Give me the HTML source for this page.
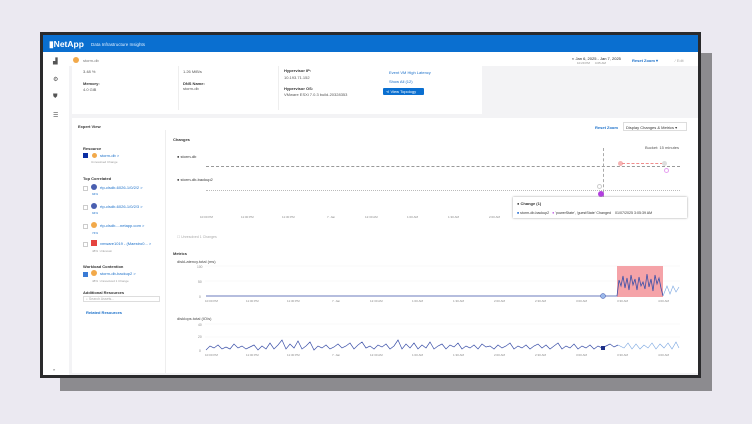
<!DOCTYPE html>
<html><head><style>
*{margin:0;padding:0;box-sizing:border-box}
body{width:752px;height:424px;background:#ebe9f1;position:relative;overflow:hidden;font-family:"Liberation Sans",sans-serif;color:#333}
.a{position:absolute}
.t{position:absolute;font-size:4px;white-space:nowrap}
.b{color:#1a6fc9}
.bold{font-weight:bold}
</style></head><body>
<div class="a" style="left:60px;top:53px;width:652px;height:338px;background:#8c8b8f"></div>
<div class="a" style="left:40px;top:32px;width:661px;height:346px;background:#2a2a2c"></div>
<div class="a" style="left:43px;top:35px;width:655px;height:340px;background:#f3f3f5"></div>
<div class="a" style="left:43px;top:35px;width:655px;height:17px;background:#0a6fd0"></div>
<div class="t" style="left:49px;top:39px;font-size:8.5px;color:#fff;font-weight:bold">▮NetApp</div>
<div class="t" style="left:91px;top:42px;font-size:4.5px;color:#dfeeff">Data Infrastructure Insights</div>
<div class="a" style="left:43px;top:52px;width:26px;height:323px;background:#fff"></div>
<div class="t" style="left:53px;top:58px;font-size:6px;color:#555">▟</div>
<div class="t" style="left:53px;top:76px;font-size:6px;color:#555">⚙</div>
<div class="t" style="left:53px;top:94px;font-size:6px;color:#555">⛊</div>
<div class="t" style="left:53px;top:112px;font-size:6px;color:#555">☰</div>
<div class="t" style="left:53px;top:367px;font-size:4px;color:#555">»</div>
<div class="a" style="left:69px;top:52px;width:629px;height:14px;background:#fff"></div>
<div class="a" style="left:73px;top:57px;width:6px;height:6px;border-radius:50%;background:#f2a94a"></div>
<div class="t" style="left:83px;top:58px;color:#777">storm-db</div>
<div class="t" style="left:572px;top:56px;color:#222" >◐ Jan 6, 2025 - Jan 7, 2025</div>
<div class="t" style="left:577px;top:61px;color:#888;font-size:3px">10:29 PM &nbsp;&nbsp;&nbsp;&nbsp; 4:05 AM</div>
<div class="t b bold" style="left:632px;top:58px">Reset Zoom ▾</div>
<div class="t" style="left:675px;top:58px;color:#aaa">⁄ Edit</div>
<div class="a" style="left:72px;top:66px;width:410px;height:48px;background:#fff"></div>
<div class="t" style="left:83px;top:69px;color:#555">3.48 %</div>
<div class="t bold" style="left:83px;top:81px">Memory:</div>
<div class="t" style="left:83px;top:87px;color:#555">4.0 GiB</div>
<div class="t" style="left:183px;top:69px;color:#555">1.26 MiB/s</div>
<div class="t bold" style="left:183px;top:81px">DNS Name:</div>
<div class="t" style="left:183px;top:86px;color:#555">storm-db</div>
<div class="a" style="left:178px;top:66px;width:1px;height:44px;background:#eee"></div>
<div class="a" style="left:278px;top:66px;width:1px;height:44px;background:#eee"></div>
<div class="t bold" style="left:284px;top:68px">Hypervisor IP:</div>
<div class="t" style="left:284px;top:75px;color:#555">10.193.71.152</div>
<div class="t bold" style="left:284px;top:86px">Hypervisor OS:</div>
<div class="t" style="left:284px;top:92px;color:#555">VMware ESXi 7.0.3 build-20328353</div>
<div class="t b" style="left:389px;top:70px">Event VM High Latency</div>
<div class="t b" style="left:389px;top:79px">Show All (12)</div>
<div class="a" style="left:383px;top:88px;width:41px;height:7px;background:#0a6fd0;border-radius:1px"></div>
<div class="t" style="left:386px;top:89px;color:#fff">⋖ View Topology</div>
<div class="a" style="left:72px;top:118px;width:626px;height:255px;background:#fff"></div>
<div class="a" style="left:165px;top:130px;width:1px;height:243px;background:#eee"></div>
<div class="t bold" style="left:78px;top:124px">Expert View</div>
<div class="t bold" style="left:83px;top:146px">Resource</div>
<div class="a" style="left:83px;top:153px;width:5px;height:5px;background:#0b2ea3"></div>
<div class="a" style="left:92px;top:153px;width:5px;height:5px;border-radius:50%;background:#f2a94a"></div>
<div class="t b" style="left:100px;top:153px">storm-db &gt;</div>
<div class="t" style="left:91px;top:160px;color:#999;font-size:3px">Unresolved Change</div>
<div class="t bold" style="left:83px;top:176px">Top Correlated</div>
<div class="a" style="left:83px;top:186px;width:5px;height:5px;border:1px solid #ccc"></div><div class="a" style="left:91px;top:184px;width:6px;height:6px;border-radius:50%;background:#4a5fb0"></div><div class="t b" style="left:100px;top:185px">rtp-clsdb-6026-1/0/2/2 &gt;</div><div class="t b" style="left:92px;top:192px;font-size:3px">94%</div>
<div class="a" style="left:83px;top:205px;width:5px;height:5px;border:1px solid #ccc"></div><div class="a" style="left:91px;top:203px;width:6px;height:6px;border-radius:50%;background:#4a5fb0"></div><div class="t b" style="left:100px;top:204px">rtp-clsdb-6026-1/0/2/3 &gt;</div><div class="t b" style="left:92px;top:211px;font-size:3px">94%</div>
<div class="a" style="left:83px;top:224px;width:5px;height:5px;border:1px solid #ccc"></div><div class="a" style="left:91px;top:222px;width:6px;height:6px;border-radius:50%;background:#f2a94a"></div><div class="t b" style="left:100px;top:223px">rtp-clsdb-...netapp.com &gt;</div><div class="t b" style="left:92px;top:231px;font-size:3px">74%</div>
<div class="a" style="left:83px;top:242px;width:5px;height:5px;border:1px solid #ccc"></div><div class="a" style="left:91px;top:240px;width:6px;height:6px;background:#e5443f"></div><div class="t b" style="left:100px;top:241px">vmware1019 - (Maestro0... &gt;</div><div class="t" style="left:92px;top:249px;font-size:3px;color:#999">48% &nbsp;Unknown</div>
<div class="t bold" style="left:83px;top:264px">Workload Contention</div>
<div class="a" style="left:83px;top:272px;width:5px;height:5px;background:#3a7bd5"></div><div class="a" style="left:91px;top:270px;width:6px;height:6px;border-radius:50%;background:#f2a94a"></div><div class="t b" style="left:100px;top:271px">storm-db-backup2 &gt;</div><div class="t" style="left:92px;top:279px;font-size:3px;color:#999">48% &nbsp;Unresolved 1 Change</div>
<div class="t bold" style="left:83px;top:290px">Additional Resources</div>
<div class="a" style="left:83px;top:296px;width:77px;height:6px;border:1px solid #ddd"></div>
<div class="t" style="left:86px;top:297px;color:#aaa;font-size:3.5px">⌕ Search Assets...</div>
<div class="t b bold" style="left:86px;top:310px">Related Resources</div>
<div class="t bold" style="left:173px;top:137px">Changes</div>
<div class="t b bold" style="left:595px;top:125px">Reset Zoom</div>
<div class="a" style="left:623px;top:122px;width:64px;height:9px;border:1px solid #ddd"></div>
<div class="t" style="left:626px;top:125px">Display Changes &amp; Metrics ▾</div>
<div class="t" style="left:645px;top:145px;color:#555">Bucket: 15 minutes</div>
<div class="t" style="left:177px;top:154px">● storm-db</div>
<div class="t" style="left:177px;top:177px">● storm-db-backup2</div>
<div class="a" style="left:206px;top:166px;width:474px;border-top:1px dashed #999"></div>
<div class="a" style="left:206px;top:190px;width:474px;border-top:1px dotted #bbb"></div>
<div class="a" style="left:603px;top:148px;height:60px;border-left:1px dashed #aaa"></div>
<div class="a" style="left:618px;top:161px;width:5px;height:5px;border-radius:50%;background:#f5b3b3"></div>
<div class="a" style="left:622px;top:163px;width:41px;border-top:1px dashed #f08b8b"></div>
<div class="a" style="left:662px;top:161px;width:5px;height:5px;border-radius:50%;background:#ddd"></div>
<div class="a" style="left:664px;top:168px;width:5px;height:5px;border-radius:50%;border:1px solid #e6a0f0"></div>
<div class="a" style="left:597px;top:184px;width:5px;height:5px;border-radius:50%;border:1px solid #ccc"></div>
<div class="a" style="left:598px;top:191px;width:6px;height:6px;border-radius:50%;background:#b33ee0"></div>
<svg class="a" style="left:160px;top:212px" width="540" height="10"><g font-family="Liberation Sans" font-size="3" fill="#888">
<text x="40" y="6">10:00 PM</text><text x="81" y="6">11:00 PM</text><text x="122" y="6">11:30 PM</text><text x="167" y="6">7. Jan</text><text x="205" y="6">12:30 AM</text><text x="247" y="6">1:00 AM</text><text x="288" y="6">1:30 AM</text><text x="329" y="6">2:00 AM</text><text x="370" y="6">2:30 AM</text><text x="411" y="6">3:00 AM</text><text x="452" y="6">3:30 AM</text><text x="493" y="6">4:00 AM</text></g></svg>
<div class="a" style="left:513px;top:197px;width:174px;height:21px;background:#fff;box-shadow:0 0 2px #999"></div>
<div class="t bold" style="left:517px;top:201px">● Change (1)</div>
<div class="t" style="left:517px;top:211px;font-size:3.6px"><span style="color:#3a7bd5">■</span> storm-db-backup2 &nbsp; <span style="color:#b33ee0">●</span> 'powerState', 'guestState' Changed &nbsp;&nbsp; 01/07/2025 3:05:39 AM</div>
<div class="t" style="left:177px;top:235px;color:#aaa;font-size:3.5px">☐ Unresolved 1 Changes</div>
<div class="t bold" style="left:173px;top:251px">Metrics</div>
<div class="t" style="left:177px;top:259px;color:#444">diskLatency.total (ms)</div>
<div class="t" style="left:177px;top:316px;color:#444">diskIops.total (IO/s)</div>
<svg class="a" style="left:160px;top:260px" width="540" height="110" viewBox="0 0 540 110">
<g font-family="Liberation Sans" font-size="3.3" fill="#888">
<text x="37" y="8">100</text><text x="38" y="23">50</text><text x="39" y="38">0</text>
<text x="38" y="66">40</text><text x="38" y="78">20</text><text x="39" y="92">0</text>
</g>
<line x1="45" y1="6" x2="520" y2="6" stroke="#eee" stroke-width=".4"/>
<line x1="45" y1="21" x2="520" y2="21" stroke="#eee" stroke-width=".4"/>
<line x1="45" y1="64" x2="520" y2="64" stroke="#eee" stroke-width=".4"/>
<line x1="45" y1="77" x2="520" y2="77" stroke="#eee" stroke-width=".4"/>
<rect x="457" y="6" width="46" height="31" fill="#f5a3a8"/>
<polyline fill="none" stroke="#3b50a8" stroke-width=".8" points="46,36 443,36 450,36 457,36 459,20 461,26 463,16 465,28 467,18 469,30 471,15 473,25 475,19 477,30 479,17 481,26 483,22 485,29 487,14 489,27 491,19 493,31 495,15 497,24 499,18 501,28 503,36"/>
<polyline fill="none" stroke="#7aa6e0" stroke-width=".6" points="503,36 507,26 510,34 513,26 516,32 519,27"/>
<circle cx="443" cy="36" r="2.5" fill="#9ab8ea" stroke="#3b50a8" stroke-width=".5"/>
<polyline fill="none" stroke="#3b50a8" stroke-width=".7" points="46,90 50,86 54,88 58,85 62,89 66,87 70,89 74,84 78,88 82,86 86,89 90,87 94,85 98,90 102,86 106,89 110,83 114,89 118,85 122,80 126,89 130,84 134,88 138,81 142,89 146,86 150,82 154,90 158,86 162,88 166,85 170,89 174,87 178,84 182,88 186,86 190,83 194,89 198,85 202,82 206,88 210,86 214,89 218,85 222,87 226,84 230,89 234,86 238,80 242,89 246,84 250,88 254,83 258,89 262,85 266,88 270,82 274,89 278,86 282,84 286,89 290,85 294,87 298,83 302,89 306,86 310,88 314,85 318,89 322,84 326,87 330,86 334,89 338,85 342,88 346,86 350,83 354,89 358,86 362,88 366,85 370,89 374,86 378,84 382,88 386,85 390,89 394,86 398,83 402,89 406,86 410,88 414,84 418,89 422,86 426,88 430,85 434,89 438,86 442,88 446,86 450,84 454,87 458,85"/>
<polyline fill="none" stroke="#7aa6e0" stroke-width=".6" points="458,85 464,88 468,83 472,89 476,84 480,89 484,85 488,88 492,83 496,89 500,84 504,88 508,83 512,89 516,82 519,88"/>
<rect x="441" y="86" width="4" height="4" fill="#1d2f88"/>
<g font-family="Liberation Sans" font-size="3" fill="#888">
<text x="45" y="42">10:00 PM</text><text x="86" y="42">11:00 PM</text><text x="127" y="42">11:30 PM</text><text x="172" y="42">7. Jan</text><text x="210" y="42">12:30 AM</text><text x="252" y="42">1:00 AM</text><text x="293" y="42">1:30 AM</text><text x="334" y="42">2:00 AM</text><text x="375" y="42">2:30 AM</text><text x="416" y="42">3:00 AM</text><text x="457" y="42">3:30 AM</text><text x="498" y="42">4:00 AM</text>
<text x="45" y="96">10:00 PM</text><text x="86" y="96">11:00 PM</text><text x="127" y="96">11:30 PM</text><text x="172" y="96">7. Jan</text><text x="210" y="96">12:30 AM</text><text x="252" y="96">1:00 AM</text><text x="293" y="96">1:30 AM</text><text x="334" y="96">2:00 AM</text><text x="375" y="96">2:30 AM</text><text x="416" y="96">3:00 AM</text><text x="457" y="96">3:30 AM</text><text x="498" y="96">4:00 AM</text>
</g>
</svg>
</body></html>
